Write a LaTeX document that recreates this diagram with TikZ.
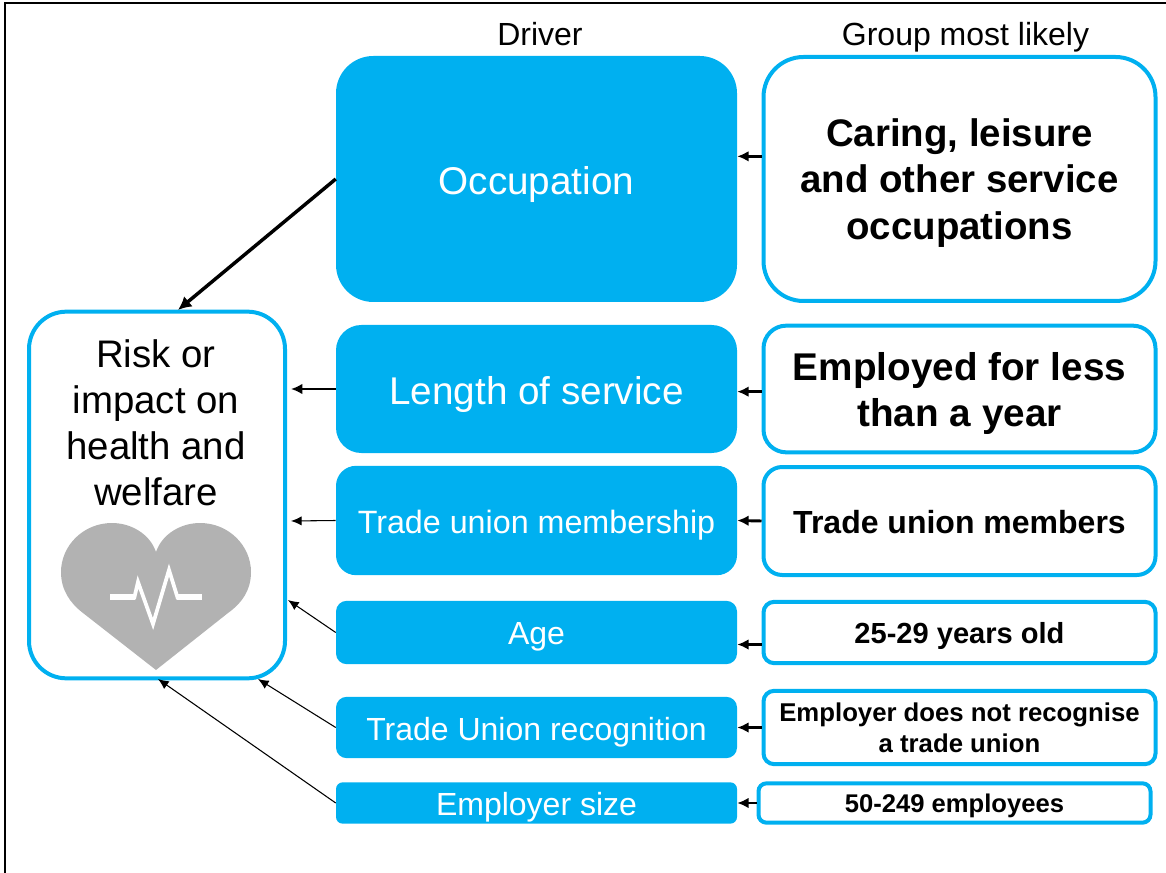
\documentclass[tikz,border=0pt]{standalone}
\usepackage{fontspec}
\setmainfont{Liberation Sans}
\usetikzlibrary{arrows.meta}
\definecolor{drvblue}{HTML}{00B0F0}
\definecolor{heartgray}{HTML}{B2B2B2}
\tikzset{
  drvbox/.style = {fill=drvblue, text=white, inner sep=0pt, minimum width=300.75pt, align=center, rounded corners=#1},
  grpbox/.style = {draw=drvblue, line width=3pt, fill=white, inner sep=0pt, minimum width=294pt, align=center, font=\bfseries, rounded corners=#1},
  capline/.style = {text height=#1, text depth=0pt},
  headlabel/.style = {font=\fontsize{24}{24}\selectfont},
  thinarrow/.style = {-{Latex[length=8pt,width=7pt]}, line width=0.8pt},
  midarrow/.style = {-{Latex[length=8.5pt,width=8pt]}, line width=2.2pt},
  wideline/.style = {-{Latex[length=10pt,width=10pt]}, line width=2.6pt}
}

\begin{document}
\begin{tikzpicture}[x=0.75pt, y=-0.75pt]

    \useasboundingbox (0,0) rectangle (1166,873);

    % Frame
    \draw[line width=1.5pt] (5,873) -- (5,3) -- (1166,3);

    % Column heads
    \node[headlabel, capline=17.2pt] (driverhead) at (540,34) {Driver};
    \node[headlabel, capline=17.2pt] (grouphead) at (965.5,34) {Group most likely};

    % Drivers
    \node[drvbox=28pt, minimum height=184.5pt, capline=23.8pt, font=\fontsize{29}{29}\selectfont] (occupation) at (536.5,179) {Occupation};
    \node[drvbox=19pt, minimum height=96pt, capline=23.8pt, font=\fontsize{29}{29}\selectfont] (service) at (536.5,389) {Length of service};
    \node[drvbox=15pt, minimum height=82pt, capline=20.2pt, font=\fontsize{24.2}{24.2}\selectfont] (union) at (536.5,520.5) {Trade union membership};
    \node[drvbox=8pt, minimum height=47.5pt, capline=18.7pt, font=\fontsize{24}{24}\selectfont] (age) at (536.5,632.5) {Age};
    \node[drvbox=8pt, minimum height=46pt, capline=20.2pt, font=\fontsize{24}{24}\selectfont] (recognition) at (536.5,727.5) {Trade Union recognition};
    \node[drvbox=5pt, minimum height=31pt, capline=18.2pt, font=\fontsize{24}{24}\selectfont] (size) at (536.5,803) {Employer size};

    % Groups most likely
    \node[grpbox=30pt, minimum height=183pt, text depth=0pt, font=\bfseries\fontsize{28.8}{35}\selectfont] (caring) at (959.5,179) {Caring, leisure\\and other service\\occupations};
    \node[grpbox=17pt, minimum height=95pt, text depth=0pt, font=\bfseries\fontsize{29}{34.5}\selectfont] (lessyear) at (959.5,389) {Employed for less\\than a year};
    \node[grpbox=14pt, minimum height=81pt, capline=18.7pt, font=\bfseries\fontsize{24}{24}\selectfont] (members) at (959.5,521) {Trade union members};
    \node[grpbox=8pt, minimum height=46pt, capline=16.6pt, font=\bfseries\fontsize{21.8}{21.8}\selectfont] (years) at (959.5,632.5) {25-29 years old};
    \node[grpbox=8pt, minimum height=55pt, text depth=0pt, font=\bfseries\fontsize{19.3}{23}\selectfont] (norecognise) at (959.5,727.5) {Employer does not recognise\\a trade union};
    \node[grpbox=6pt, minimum height=29.5pt, capline=13.8pt, font=\bfseries\fontsize{19.2}{19.2}\selectfont] (employees) at (954.5,803) {50-249 employees};

    % Risk box
    \node[draw=drvblue, line width=3pt, rounded corners=28pt, minimum width=192pt, minimum height=275pt, inner sep=0pt] (risk) at (157,495) {};
    \node[font=\fontsize{28.8}{34.5}\selectfont, align=center] (risklabel) at (156,423) {Risk or\\impact on\\health and\\welfare};

    % Heart
    \fill[heartgray] (156,552) .. controls (150,534) and (131,523) .. (112,523)
      .. controls (83,523) and (61,546) .. (61,572)
      .. controls (61,590) and (70,603) .. (83,613)
      -- (156,670) -- (228,613)
      .. controls (242,603) and (251,590) .. (251,572)
      .. controls (251,546) and (229,523) .. (200,523)
      .. controls (181,523) and (162,534) .. (156,552) -- cycle;
    \draw[white, line width=4.5pt] (110,597) -- (135,597);
    \draw[white, line width=4.5pt] (177,597) -- (202,597);
    \draw[white, line width=2.8pt] (134,599) -- (138,582) -- (153,624) -- (169,570) -- (178,599);

    % Free arrow ends
    \coordinate (occtip) at (178,310);
    \coordinate (servicetip) at (291,389);
    \coordinate (uniontip) at (291,521);
    \coordinate (agetip) at (288,600);
    \coordinate (recogtip) at (258,679);
    \coordinate (sizetip) at (158,679);

    % Drivers to risk
    \draw[wideline] (occupation.west) -- (occtip);
    \draw[midarrow] (service.west) -- (servicetip);
    \draw[thinarrow] (union.west) -- (uniontip);
    \draw[thinarrow] (age.west) -- (agetip);
    \draw[thinarrow] (recognition.west) -- (recogtip);
    \draw[thinarrow] (size.west) -- (sizetip);

    % Groups to drivers
    \draw[midarrow] ([yshift=17pt]caring.west) -- ([yshift=17pt]occupation.east);
    \draw[midarrow] ([yshift=-2pt]lessyear.west) -- ([yshift=-2pt]service.east);
    \draw[midarrow] (members.west) -- (union.east);
    \draw[midarrow] ([yshift=-9pt]years.west) -- ([yshift=-9pt]age.east);
    \draw[midarrow] (norecognise.west) -- (recognition.east);
    \draw[midarrow] (employees.west) -- (size.east);

\end{tikzpicture}
\end{document}
